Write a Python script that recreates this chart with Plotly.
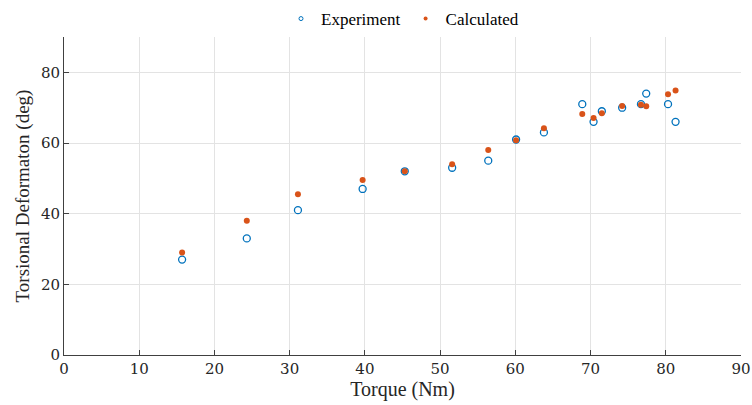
import plotly.graph_objects as go

# Applied torque (Nm)
torque = [15.7, 24.3, 31.1, 39.7, 45.3, 51.6, 56.4, 60.1, 63.8,
          68.9, 70.4, 71.5, 74.2, 76.7, 77.4, 80.3, 81.3]
# Measured torsional deformation (deg)
experiment = [27.0, 33.0, 41.0, 47.0, 52.0, 53.0, 55.0, 61.0, 63.0,
              71.0, 66.0, 69.0, 70.0, 71.0, 74.0, 71.0, 66.0]
# Model prediction (deg)
calculated = [29.0, 38.0, 45.5, 49.5, 52.0, 54.0, 58.0, 60.8, 64.2,
              68.2, 67.1, 68.4, 70.5, 70.8, 70.4, 73.8, 74.9]

x_ticks = list(range(0, 91, 10))
y_ticks = list(range(0, 81, 20))

font_family = "Liberation Serif"
tick_family = "DejaVu Serif"
blue = "#0072BD"
orange = "#D95319"

fig = go.Figure()
fig.add_trace(go.Scatter(
    x=torque, y=experiment, mode="markers", name="Experiment", showlegend=False,
    marker=dict(symbol="circle-open", size=7, color=blue,
                line=dict(width=1.3, color=blue)),
))
fig.add_trace(go.Scatter(
    x=torque, y=calculated, mode="markers", name="Calculated", showlegend=False,
    marker=dict(symbol="circle", size=6, color=orange),
))
# Legend entries drawn with smaller symbols
fig.add_trace(go.Scatter(
    x=[None], y=[None], mode="markers", name="Experiment",
    marker=dict(symbol="circle-open", size=4, color=blue,
                line=dict(width=1, color=blue)),
))
fig.add_trace(go.Scatter(
    x=[None], y=[None], mode="markers", name="Calculated",
    marker=dict(symbol="circle", size=4, color=orange),
))

axis_common = dict(
    showline=True, linecolor="#404040", linewidth=1,
    ticks="inside", ticklen=5, tickcolor="#404040",
    showgrid=True, gridcolor="#e3e3e3", gridwidth=1,
    zeroline=False, mirror=False, automargin=False,
    tickfont=dict(family=tick_family, size=15, color="#262626"),
)

fig.update_xaxes(range=[0, 90], tickvals=x_ticks,
                 title=dict(text="Torque (Nm)", standoff=2,
                            font=dict(family=font_family, size=20, color="#262626")),
                 **axis_common)
fig.update_yaxes(range=[0, 90], tickvals=y_ticks,
                 title=dict(text="Torsional Deformaton (deg)", standoff=6,
                            font=dict(family=font_family, size=19, color="#262626")),
                 **axis_common)

fig.update_layout(
    width=752, height=405,
    margin=dict(l=64, r=11, t=37, b=50),
    paper_bgcolor="white", plot_bgcolor="white",
    font=dict(family=font_family, size=16, color="#262626"),
    showlegend=True,
    legend=dict(orientation="h", x=0.5, xanchor="center",
                y=0.953, yanchor="middle", yref="container",
                font=dict(family=font_family, size=17, color="#000000"),
                itemwidth=30, bgcolor="rgba(0,0,0,0)"),
)

fig.write_html("out.html")
